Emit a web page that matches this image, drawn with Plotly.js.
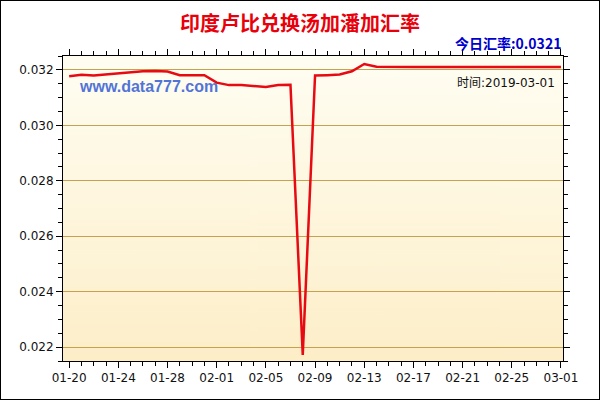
<!DOCTYPE html>
<html>
<head>
<meta charset="utf-8">
<script src="https://cdn.plot.ly/plotly-3.0.1.min.js"></script>
<style>
html,body{margin:0;padding:0;background:#fff;}
#chart{width:600px;height:400px;box-sizing:border-box;border:1px solid #000;}
</style>
</head>
<body>
<div id="chart"></div>
<script>
const dates = [
  '2019-01-20','2019-01-21','2019-01-22','2019-01-23','2019-01-24','2019-01-25','2019-01-26',
  '2019-01-27','2019-01-28','2019-01-29','2019-01-30','2019-01-31','2019-02-01','2019-02-02',
  '2019-02-03','2019-02-04','2019-02-05','2019-02-06','2019-02-07','2019-02-08','2019-02-09',
  '2019-02-10','2019-02-11','2019-02-12','2019-02-13','2019-02-14','2019-02-15','2019-02-16',
  '2019-02-17','2019-02-18','2019-02-19','2019-02-20','2019-02-21','2019-02-22','2019-02-23',
  '2019-02-24','2019-02-25','2019-02-26','2019-02-27','2019-02-28','2019-03-01'
];
const rates = [
  0.03177,0.03182,0.03180,0.03184,0.03187,0.03192,0.03195,
  0.03196,0.03194,0.03181,0.03182,0.03181,0.03154,0.03145,
  0.03145,0.03142,0.03138,0.03145,0.03146,0.02172,0.03180,
  0.03181,0.03183,0.03195,0.03221,0.03211,0.03210,0.03210,
  0.03210,0.03210,0.03210,0.03210,0.03210,0.03210,0.03210,
  0.03210,0.03210,0.03210,0.03210,0.03210,0.03210
];
const titleText = '印度卢比兑换汤加潘加汇率';
const todayText = '今日汇率:0.0321';
const timeText = '时间:2019-03-01';
const watermark = 'www.data777.com';

// gradient background for plot area
const cv = document.createElement('canvas');
cv.width = 4; cv.height = 200;
const ctx = cv.getContext('2d');
const g = ctx.createLinearGradient(0,0,0,200);
g.addColorStop(0,'#FFFEF3');
g.addColorStop(1,'#FDEEC8');
ctx.fillStyle = g; ctx.fillRect(0,0,4,200);
const bgURL = cv.toDataURL();

const font = 'DejaVu Sans, Noto Sans CJK SC, sans-serif';

const trace = {
  x: dates, y: rates, type: 'scatter', mode: 'lines',
  line: {color: '#E80A12', width: 2.5},
  hoverinfo: 'skip'
};

const layout = {
  width: 598, height: 398,
  margin: {l: 62, r: 36, t: 55, b: 38, pad: 0},
  paper_bgcolor: '#ffffff',
  plot_bgcolor: 'rgba(0,0,0,0)',
  showlegend: false,
  title: {
    text: '<b>' + titleText + '</b>',
    font: {family: 'Noto Sans CJK SC, sans-serif', size: 20, color: '#E8000B'},
    xref: 'container', x: 0.5, xanchor: 'center',
    yref: 'container', y: 0.942, yanchor: 'middle'
  },
  images: [{
    source: bgURL, xref: 'paper', yref: 'paper', x: 0, y: 1,
    sizex: 1, sizey: 1, sizing: 'stretch', xanchor: 'left', yanchor: 'top', layer: 'below'
  }],
  xaxis: {
    type: 'date',
    range: ['2019-01-19 12:00', '2019-03-01 04:00'],
    tick0: '2019-01-20', dtick: 4 * 86400000,
    tickformat: '%m-%d',
    ticks: 'outside', ticklen: 6, tickcolor: '#000', tickwidth: 1,
    minor: {dtick: 86400000, ticks: 'outside', ticklen: 4, tickcolor: '#000', showgrid: false},
    showgrid: false, zeroline: false,
    showline: true, linecolor: '#000', linewidth: 1, mirror: 'ticks',
    tickfont: {family: font, size: 12, color: '#111'}
  },
  yaxis: {
    range: [0.0215, 0.0325],
    tick0: 0.022, dtick: 0.002, tickformat: '.3f',
    ticks: 'outside', ticklen: 6, tickcolor: '#000', tickwidth: 1,
    minor: {dtick: 0.0005, ticks: 'outside', ticklen: 4, tickcolor: '#000', showgrid: false},
    showgrid: true, gridcolor: '#C4A24E', gridwidth: 1, zeroline: false,
    showline: true, linecolor: '#000', linewidth: 1, mirror: 'ticks',
    tickfont: {family: font, size: 12, color: '#111'}
  },
  annotations: [
    {text: '<b>' + todayText + '</b>', xref: 'paper', yref: 'paper', x: 1.0, y: 1.0426,
     xanchor: 'right', yanchor: 'middle', showarrow: false,
     font: {family: 'Noto Sans CJK SC, sans-serif', size: 14, color: '#0000CC'}},
    {text: timeText, xref: 'paper', yref: 'paper', x: 0.988, y: 0.9115,
     xanchor: 'right', yanchor: 'middle', showarrow: false,
     font: {family: font, size: 12, color: '#111'}},
    {text: '<b>' + watermark + '</b>', xref: 'paper', yref: 'paper', x: 0.027, y: 0.9016,
     xanchor: 'left', yanchor: 'middle', showarrow: false,
     font: {family: 'Liberation Sans, Arial, sans-serif', size: 16, color: '#5274D8'}}
  ]
};

Plotly.newPlot('chart', [trace], layout, {staticPlot: true, displayModeBar: false});
</script>
</body>
</html>
